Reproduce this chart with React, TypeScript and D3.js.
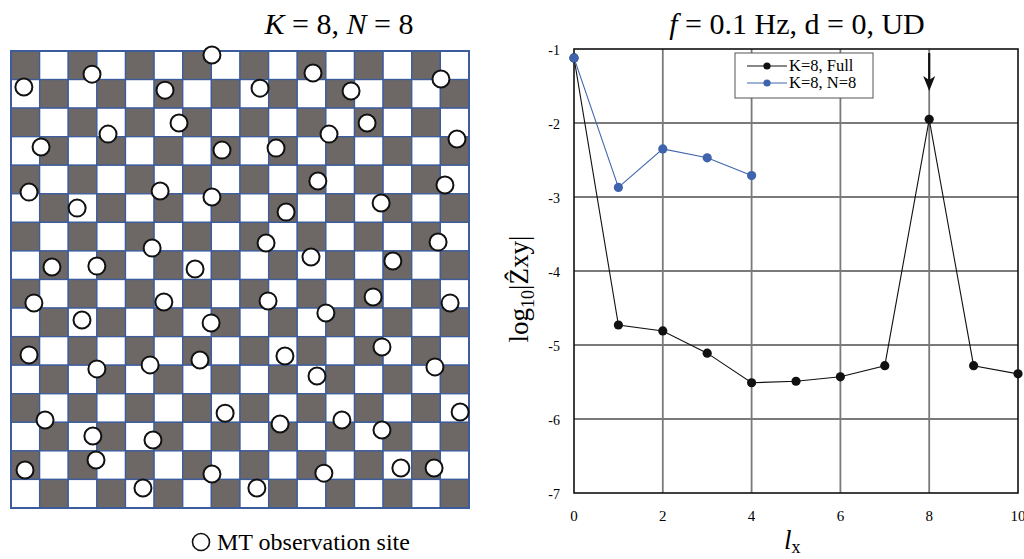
import React from "react";
import * as d3 from "d3";

// checkerboard + MT sites (grid units, 16 x 16 cells)
const boardCells = 16;
const siteX = [7.02, 2.83, 0.45, 5.38, 5.87, 3.39, 1.05, 7.37, 0.63, 5.21, 7.02, 2.31, 4.93, 1.43, 3.0, 6.43,
  10.55, 8.7, 11.88, 15.02, 12.44, 11.11, 9.26, 15.58, 10.72, 15.16, 12.93, 9.61, 8.91, 14.92, 10.48, 13.34,
  0.8, 5.34, 2.48, 6.99, 0.63, 3.0, 4.86, 6.6, 7.48, 1.19, 2.86, 4.96, 2.97, 0.49, 7.02, 4.61,
  8.98, 12.65, 15.34, 11.0, 9.57, 12.96, 10.69, 14.81, 9.4, 11.56, 12.96, 15.69, 10.93, 13.62, 14.78, 8.59];
const siteY = [0.14, 0.81, 1.26, 1.37, 2.52, 2.91, 3.36, 3.47, 4.94, 4.9, 5.11, 5.5, 6.9, 7.56, 7.53, 7.63,
  0.77, 1.3, 1.4, 0.98, 2.52, 2.91, 3.4, 3.08, 4.55, 4.69, 5.32, 5.64, 6.72, 6.69, 7.21, 7.35,
  8.82, 8.79, 9.42, 9.52, 10.64, 11.13, 10.99, 10.82, 12.68, 12.92, 13.48, 13.62, 14.32, 14.67, 14.81, 15.3,
  8.75, 8.61, 8.82, 9.17, 10.68, 10.36, 11.38, 11.06, 13.06, 12.92, 13.27, 12.64, 14.78, 14.6, 14.6, 15.3];

// spectrum
const lxFull = [0, 1, 2, 3, 4, 5, 6, 7, 8, 9, 10];
const zFull = [-1.12, -4.73, -4.81, -5.11, -5.51, -5.49, -5.43, -5.28, -1.95, -5.28, -5.39];
const lxSampled = [0, 1, 2, 3, 4];
const zSampled = [-1.12, -2.87, -2.35, -2.47, -2.71];
const xTicks = [0, 2, 4, 6, 8, 10];
const yTicks = [-1, -2, -3, -4, -5, -6, -7];
const peakLx = 8;
const legendLabels = ["K=8, Full", "K=8, N=8"];
const seriesColors = ["#111", "#3f64ad"];

const serif = "Liberation Serif";

const App = () => {
  const bx = d3.scaleLinear().domain([0, boardCells]).range([11, 469]);
  const by = d3.scaleLinear().domain([0, boardCells]).range([51, 508]);
  const cells = d3.cross(d3.range(boardCells), d3.range(boardCells));

  const x = d3.scaleLinear().domain([0, 10]).range([574, 1018]);
  const y = d3.scaleLinear().domain([-7, -1]).range([493, 49]);
  const line = d3.line<[number, number]>().x((d) => x(d[0])).y((d) => y(d[1]));
  const fullPts = lxFull.map((l, i) => [l, zFull[i]] as [number, number]);
  const sampPts = lxSampled.map((l, i) => [l, zSampled[i]] as [number, number]);

  const ax = x(peakLx);

  return (
    <svg width={1024} height={559} style={{ display: "block", position: "absolute", left: 0, top: 0, fontFamily: serif }}>
      <rect width={1024} height={559} fill="#fff" />

      {/* left panel */}
      <text x={339} y={34} fontSize={30} textAnchor="middle">
        <tspan fontStyle="italic">K</tspan> = 8, <tspan fontStyle="italic">N</tspan> = 8
      </text>
      <g>
        {cells.map(([r, c]) => (
          <rect key={r + "-" + c} x={bx(c)} y={by(r)} width={bx(1) - bx(0)} height={by(1) - by(0)}
            fill={(r + c) % 2 === 0 ? "#6d6866" : "#fff"} stroke="#3d5c9c" strokeWidth={1.3} />
        ))}
        <rect x={bx(0)} y={by(0)} width={bx(boardCells) - bx(0)} height={by(boardCells) - by(0)}
          fill="none" stroke="#3d5c9c" strokeWidth={2} />
      </g>
      <g>
        {siteX.map((sx, i) => (
          <circle key={i} cx={bx(sx)} cy={by(siteY[i])} r={8.5} fill="#fff" stroke="#111" strokeWidth={2} />
        ))}
      </g>
      <circle cx={201} cy={542} r={8.5} fill="#fff" stroke="#111" strokeWidth={1.6} />
      <text x={217} y={550} fontSize={24}>MT observation site</text>

      {/* right panel */}
      <text x={797} y={34} fontSize={30} textAnchor="middle">
        <tspan fontStyle="italic">f</tspan> = 0.1 Hz, d = 0, UD
      </text>
      <g stroke="#7a7a7a" strokeWidth={1.8}>
        {xTicks.slice(1, -1).map((t) => (
          <line key={"gx" + t} x1={x(t)} x2={x(t)} y1={y(-1)} y2={y(-7)} />
        ))}
        {yTicks.slice(1, -1).map((t) => (
          <line key={"gy" + t} x1={x(0)} x2={x(10)} y1={y(t)} y2={y(t)} />
        ))}
      </g>
      <rect x={x(0)} y={y(-1)} width={x(10) - x(0)} height={y(-7) - y(-1)} fill="none" stroke="#111" strokeWidth={1.6} />
      {xTicks.map((t) => (
        <text key={"xt" + t} x={x(t)} y={521} fontSize={15} textAnchor="middle">{t}</text>
      ))}
      {yTicks.map((t) => (
        <text key={"yt" + t} x={560} y={y(t) + 6} fontSize={14} textAnchor="end">{t}</text>
      ))}

      <path d={line(fullPts) || ""} fill="none" stroke={seriesColors[0]} strokeWidth={1.1} />
      {fullPts.map((p, i) => (
        <circle key={"f" + i} cx={x(p[0])} cy={y(p[1])} r={4.6} fill={seriesColors[0]} />
      ))}
      <path d={line(sampPts) || ""} fill="none" stroke={seriesColors[1]} strokeWidth={1.1} />
      {sampPts.map((p, i) => (
        <circle key={"s" + i} cx={x(p[0])} cy={y(p[1])} r={4.6} fill={seriesColors[1]} />
      ))}

      {/* arrow marking the true wavenumber */}
      <line x1={ax} x2={ax} y1={53} y2={84} stroke="#111" strokeWidth={2.2} />
      <path d={`M${ax - 6},76 L${ax},91 L${ax + 6},76 L${ax},80 Z`} fill="#111" />

      {/* legend */}
      <rect x={735} y={53} width={138} height={45} fill="#fff" stroke="#555" strokeWidth={1} />
      {legendLabels.map((lab, i) => (
        <g key={lab} transform={`translate(0,${66 + i * 17})`}>
          <line x1={747} x2={787} y1={0} y2={0} stroke={seriesColors[i]} strokeWidth={1.1} />
          <circle cx={767} cy={0} r={3.6} fill={seriesColors[i]} />
          <text x={789} y={5} fontSize={16.5}>{lab}</text>
        </g>
      ))}

      {/* axis titles */}
      <text transform="translate(528,289) rotate(-90)" fontSize={27} textAnchor="middle">
        log<tspan fontSize={18} dy={6}>10</tspan><tspan dy={-6}>|Ẑxy|</tspan>
      </text>
      <text x={784} y={549} fontSize={27}>
        <tspan fontStyle="italic">l</tspan><tspan fontSize={18} dy={4}>x</tspan>
      </text>
    </svg>
  );
};

export default App;
